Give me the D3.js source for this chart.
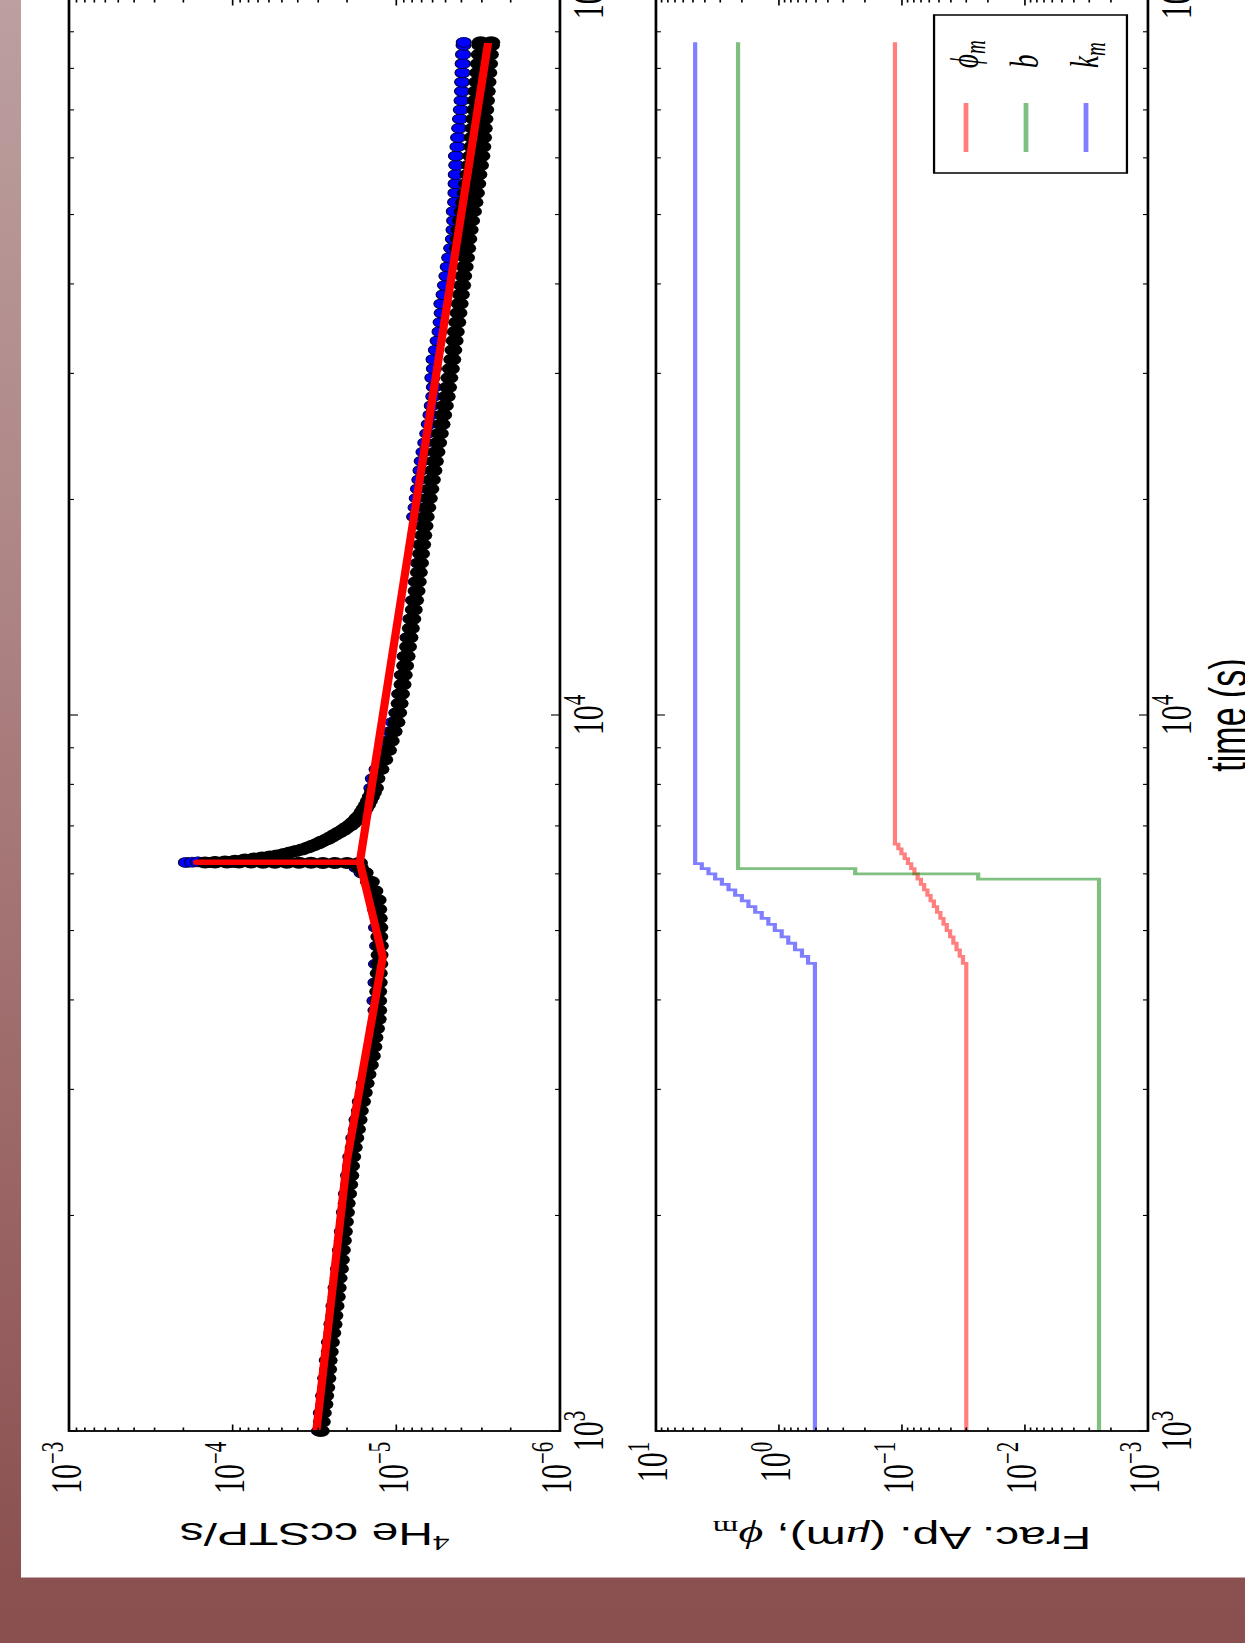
<!DOCTYPE html>
<html><head><meta charset="utf-8">
<script src="https://cdn.jsdelivr.net/npm/d3@7"></script>
<style>html,body{margin:0;padding:0;background:#8a5050;overflow:hidden}</style>
</head><body>
<script>
// ---------------- DATA ----------------
const timeTicks = [1e3, 1e4, 1e5];
const heTicks = [1e-3, 1e-4, 1e-5, 1e-6];
const fracTicks = [1e1, 1e0, 1e-1, 1e-2, 1e-3];

// black measured points [time s, ccSTP/s]
const heBlack = [[1000,2.89e-5],[1030,2.85e-5],[1060,2.81e-5],[1090,2.75e-5],[1120,2.72e-5],[1150,2.68e-5],[1185,2.64e-5],[1220,2.61e-5],[1255,2.59e-5],[1290,2.55e-5],
[1330,2.51e-5],[1370,2.46e-5],[1410,2.42e-5],[1450,2.39e-5],[1495,2.35e-5],[1540,2.31e-5],[1585,2.28e-5],[1635,2.25e-5],[1685,2.21e-5],[1735,2.18e-5],
[1790,2.15e-5],[1845,2.12e-5],[1900,2.09e-5],[1960,2.06e-5],[2020,2.03e-5],[2080,2.01e-5],[2145,1.97e-5],[2210,1.94e-5],[2275,1.91e-5],[2345,1.89e-5],
[2415,1.86e-5],[2490,1.82e-5],[2565,1.78e-5],[2640,1.74e-5],[2720,1.70e-5],[2800,1.67e-5],[2885,1.62e-5],[2970,1.58e-5],[3060,1.54e-5],[3150,1.50e-5],
[3245,1.45e-5],[3340,1.41e-5],[3440,1.38e-5],[3545,1.36e-5],[3650,1.33e-5],[3760,1.30e-5],[3870,1.29e-5],[3990,1.29e-5],[4110,1.29e-5],[4230,1.28e-5],
[4360,1.28e-5],[4490,1.27e-5],[4620,1.265e-5],[4760,1.26e-5],[4900,1.27e-5],[5050,1.27e-5],[5200,1.28e-5],[5355,1.29e-5],[5515,1.30e-5],[5680,1.36e-5],
[5850,1.43e-5],[6020,1.56e-5],[6120,1.67e-5],
[6212,1.69e-5],[6213,2.00e-5],[6214,2.37e-5],[6215,2.81e-5],[6216,3.32e-5],[6217,3.93e-5],[6218,4.66e-5],[6219,5.52e-5],[6220,6.52e-5],[6221,7.73e-5],
[6222,9.16e-5],[6222,1.084e-4],[6223,1.283e-4],[6223,1.476e-4],
[6234,1.283e-4],[6243,1.115e-4],[6260,9.68e-5],[6283,8.42e-5],[6302,7.41e-5],[6324,6.62e-5],[6345,5.92e-5],[6365,5.36e-5],[6396,4.86e-5],[6427,4.47e-5],
[6458,4.10e-5],[6489,3.77e-5],[6532,3.47e-5],[6573,3.23e-5],[6616,3.01e-5],[6658,2.85e-5],[6706,2.65e-5],[6755,2.50e-5],[6804,2.37e-5],[6854,2.24e-5],
[6903,2.12e-5],[6954,2.03e-5],[7010,1.92e-5],[7067,1.84e-5],[7124,1.77e-5],[7182,1.72e-5],[7251,1.647e-5],[7322,1.60e-5],[7404,1.557e-5],[7489,1.51e-5],
[7585,1.47e-5],[7684,1.43e-5],[7795,1.39e-5],[7908,1.35e-5],
[8150,1.322e-5],[8400,1.25e-5],[8660,1.184e-5],[8930,1.124e-5],[9200,1.081e-5],[9480,1.038e-5],[9770,9.98e-6],[10070,9.74e-6],[10380,9.54e-6],[10700,9.36e-6],
[11030,9.16e-6],[11370,9.00e-6],[11720,8.83e-6],[12080,8.65e-6],[12450,8.48e-6],[12830,8.31e-6],[13220,8.15e-6],[13620,7.98e-6],[14030,7.82e-6],[14460,7.68e-6],
[14900,7.52e-6],[15350,7.39e-6],[15820,7.28e-6],[16300,7.16e-6],[16790,7.06e-6],[17300,6.95e-6],[17830,6.84e-6],[18370,6.72e-6],[18920,6.61e-6],[19490,6.47e-6],
[20080,6.33e-6],[20690,6.19e-6],[21310,6.06e-6],[21960,5.93e-6],[22620,5.81e-6],[23300,5.68e-6],[24000,5.55e-6],[24730,5.42e-6],[25480,5.29e-6],[26250,5.17e-6],
[27040,5.05e-6],[27860,4.92e-6],[28700,4.83e-6],[29570,4.74e-6],[30460,4.64e-6],[31380,4.55e-6],[32330,4.48e-6],[33310,4.40e-6],[34310,4.33e-6],[35350,4.24e-6],
[36420,4.17e-6],[37520,4.10e-6],[38650,4.03e-6],[39820,3.96e-6],[41020,3.90e-6],[42260,3.82e-6],[43530,3.75e-6],[44850,3.69e-6],[46200,3.63e-6],[47600,3.56e-6],
[49030,3.49e-6],[50510,3.40e-6],[52030,3.33e-6],[53600,3.26e-6],[55220,3.20e-6],[56880,3.15e-6],[58600,3.08e-6],[60360,3.02e-6],[62180,2.98e-6],[64060,2.95e-6],
[65990,2.92e-6],[67980,2.89e-6],[70030,2.86e-6],[72140,2.83e-6],[74310,2.80e-6],[76550,2.77e-6],[78860,2.74e-6],[81230,2.71e-6],[83680,2.68e-6],[86200,2.64e-6],[87000,2.63e-6]];

// upper scatter of the black points at late times
const heBlackUpper = [[44850,4.20e-6],[46200,4.15e-6],[47600,4.11e-6],[49030,4.03e-6],[50510,3.93e-6],[52030,3.85e-6],[53600,3.76e-6],[55220,3.69e-6],[56880,3.62e-6],[58600,3.55e-6],[60360,3.49e-6],[62180,3.44e-6],
[64060,3.41e-6],[65990,3.37e-6],[67980,3.34e-6],[70030,3.30e-6],[72140,3.27e-6],[74310,3.24e-6],[76550,3.20e-6],[78860,3.16e-6],[81230,3.13e-6],[83680,3.09e-6],[86200,3.06e-6],[87000,3.05e-6]];

// blue measured points
const heBlue = [[1000,2.97e-5],[1060,2.89e-5],[1120,2.80e-5],[1185,2.72e-5],[1255,2.66e-5],[1330,2.58e-5],[1410,2.49e-5],[1495,2.42e-5],[1585,2.35e-5],[1685,2.27e-5],
[1790,2.21e-5],[1900,2.15e-5],[2020,2.09e-5],[2145,2.03e-5],[2275,1.97e-5],[2415,1.91e-5],[2565,1.83e-5],[2720,1.75e-5],[2885,1.67e-5],[3060,1.58e-5],
[3245,1.49e-5],[3440,1.42e-5],[3650,1.36e-5],[3870,1.34e-5],
[3990,1.36e-5],[4230,1.34e-5],[4490,1.33e-5],[4760,1.31e-5],[5050,1.33e-5],[5355,1.35e-5],[5680,1.42e-5],[5850,1.49e-5],[6020,1.63e-5],[6120,1.75e-5],
[6214,2.4e-5],[6217,4.0e-5],[6220,6.5e-5],[6222,1.0e-4],[6223,1.4e-4],[6225,1.93e-4],[6230,1.77e-4],[6236,1.63e-4],
[6283,8.5e-5],[6365,5.4e-5],[6489,3.8e-5],[6658,2.87e-5],[6854,2.26e-5],[7067,1.86e-5],[7322,1.62e-5],[7684,1.45e-5],
[7908,1.42e-5],[8150,1.39e-5],[8400,1.32e-5],[8660,1.25e-5],[8930,1.19e-5],[9200,1.14e-5],[9480,1.09e-5],[9770,1.05e-5],
[10070,1.0e-5],[10700,9.6e-6],[11370,9.25e-6],[12080,8.9e-6],[12830,8.55e-6],[13620,8.2e-6],[14460,7.9e-6],[15350,7.6e-6],[16300,7.37e-6],[17300,7.15e-6],[18370,6.92e-6],
[18920,7.78e-6],[19490,7.62e-6],[20080,7.50e-6],[20690,7.37e-6],[21310,7.23e-6],[21960,7.11e-6],[22620,6.99e-6],[23300,6.82e-6],[24000,6.65e-6],[24730,6.47e-6],
[25480,6.33e-6],[26250,6.18e-6],[27040,6.07e-6],[27860,5.94e-6],[28700,5.89e-6],[29570,6.02e-6],[30460,5.89e-6],[31380,5.92e-6],[32330,5.73e-6],[33310,5.59e-6],
[34310,5.44e-6],[35350,5.36e-6],[36420,5.28e-6],[37520,5.30e-6],[38650,5.14e-6],[39820,5.04e-6],[41020,4.94e-6],[42260,4.85e-6],[43530,4.75e-6],[44850,4.62e-6],
[46200,4.51e-6],[47600,4.47e-6],[49030,4.43e-6],[50510,4.45e-6],[52030,4.37e-6],[53600,4.35e-6],[55220,4.34e-6],[56880,4.33e-6],[58600,4.30e-6],[60360,4.32e-6],
[62180,4.23e-6],[64060,4.19e-6],[65990,4.13e-6],[67980,4.08e-6],[70030,4.03e-6],[72140,3.99e-6],[74310,3.97e-6],[76550,3.96e-6],[78860,3.94e-6],[81230,3.93e-6],
[83680,3.91e-6],[86200,3.88e-6],[87000,3.87e-6]];

// red model fit
const heFit = [[1000,3.08e-5],[2390,2.00e-5],[4590,1.21e-5],[6228,1.67e-5],[6229,1.65e-4],[6230,1.67e-5],[86800,2.75e-6]];

// lower panel: step parameters
const phiSteps = [[1000,0.030],[4500,0.0319],[4600,0.0339],[4700,0.036],[4800,0.0382],[4900,0.0406],[5000,0.0432],[5100,0.0459],[5200,0.0487],[5300,0.0518],
[5400,0.055],[5500,0.0585],[5600,0.0621],[5700,0.066],[5800,0.0701],[5900,0.0745],[6000,0.0792],[6100,0.0841],[6200,0.0894],[6300,0.095],
[6400,0.101],[6500,0.107],[6600,0.114],[87000,0.114]];
const bSteps = [[1000,0.0025],[5900,0.024],[6000,0.24],[6100,2.15],[87000,2.15]];
const kmSteps = [[1000,0.51],[4500,0.58],[4600,0.65],[4700,0.74],[4800,0.84],[4900,0.95],[5000,1.08],[5100,1.22],[5200,1.38],[5300,1.56],
[5400,1.77],[5500,2.0],[5600,2.27],[5700,2.57],[5800,2.91],[5900,3.3],[6000,3.74],[6100,4.24],[6200,4.8],[87000,4.8]];
const legendNames = ['\u03d5', 'b', 'k'];
const legendSubs = ['m', '', 'm'];
const legendColors = ['red', 'green', 'blue'];

// ---------------- DRAWING ----------------
const W = 1245, H = 1643, SX = 1.5;
const svg = d3.select('body').append('svg').attr('width', W).attr('height', H).style('display','block');
const defs = svg.append('defs');
const grad = defs.append('linearGradient').attr('id','bg').attr('x1',0).attr('y1',0).attr('x2',0).attr('y2',1);
[[0,'#bc9f9f'],[0.35,'#ae8585'],[0.75,'#996262'],[0.96,'#8b5151'],[1,'#8a4f4f']].forEach(([o,c]) =>
  grad.append('stop').attr('offset', o).attr('stop-color', c));
svg.append('rect').attr('width', W).attr('height', H).attr('fill', 'url(#bg)');
svg.append('rect').attr('x', 21).attr('y', 0).attr('width', W - 21).attr('height', 1577.5).attr('fill', '#fff');

// figure drawn in its own (rotated, stretched) coordinate frame
const g = svg.append('g').attr('transform', `translate(0,${H}) scale(${SX},1) rotate(-90)`);
const X0 = 212, X1 = 1644;
const x = d3.scaleLog().domain([1e3, 1e5]).range([X0, X1]);
const yTop = d3.scaleLog().domain([1e-3, 1e-6]).range([46, 373.3]);
const yBot = d3.scaleLog().domain([1e1, 1e-3]).range([437.3, 765.3]);

const SERIF = "'Liberation Serif','Times New Roman',serif";
const SANS = "'Liberation Sans',Arial,Helvetica,sans-serif";

function expText(v) {
  const e = Math.round(Math.log10(v));
  return e < 0 ? '\u2212' + (-e) : String(e);
}
function isMajor(v) { const l = Math.log10(v); return Math.abs(l - Math.round(l)) < 1e-6; }

function drawAxes(ys, yTicks) {
  const [ya, yb] = ys.range();
  const ax = g.append('g').attr('stroke', '#000');
  x.ticks().forEach(t => {
    const L = isMajor(t) ? 6 : 3.3, X = x(t);
    ax.append('line').attr('x1', X).attr('x2', X).attr('y1', yb).attr('y2', yb - L).attr('stroke-width', 1.1);
    ax.append('line').attr('x1', X).attr('x2', X).attr('y1', ya).attr('y2', ya + L).attr('stroke-width', 1.1);
  });
  ys.ticks().forEach(v => {
    const L = isMajor(v) ? 6.5 : 3.5, Y = ys(v);
    ax.append('line').attr('x1', X0).attr('x2', X0 + L).attr('y1', Y).attr('y2', Y).attr('stroke-width', 1.1);
    ax.append('line').attr('x1', X1).attr('x2', X1 - L).attr('y1', Y).attr('y2', Y).attr('stroke-width', 1.1);
  });
  ax.append('rect').attr('x', X0).attr('y', ya).attr('width', X1 - X0).attr('height', yb - ya)
    .attr('fill', 'none').attr('stroke-width', 1.8);
  const lab = g.append('g').attr('font-family', SERIF).attr('font-size', 30).attr('fill', '#000');
  timeTicks.forEach(t => {
    const tx = lab.append('text').attr('x', x(t)).attr('y', yb + 28.5).attr('text-anchor', 'middle');
    tx.append('tspan').text('10');
    tx.append('tspan').attr('dy', -12).attr('font-size', 21).text(expText(t));
  });
  yTicks.forEach(v => {
    const tx = lab.append('text').attr('x', X0 - 10.7).attr('y', ys(v) + 7.7).attr('text-anchor', 'end');
    tx.append('tspan').text('10');
    tx.append('tspan').attr('dy', -12).attr('font-size', 21).text(expText(v));
  });
}

// ---- top panel ----
const pts = g.append('g');
pts.selectAll('circle.blue').data(heBlue).join('circle').attr('class','blue')
  .attr('cx', d => x(d[0])).attr('cy', d => yTop(d[1])).attr('r', 5)
  .attr('fill', '#0000ff').attr('stroke', '#000033').attr('stroke-width', 0.8);
pts.selectAll('circle.bu').data(heBlackUpper).join('circle').attr('class','bu')
  .attr('cx', d => x(d[0])).attr('cy', d => yTop(d[1])).attr('r', 6).attr('fill', '#000');
pts.selectAll('circle.bk').data(heBlack).join('circle').attr('class','bk')
  .attr('cx', d => x(d[0])).attr('cy', d => yTop(d[1])).attr('r', 6).attr('fill', '#000');
g.append('path').datum(heFit)
  .attr('d', d3.line().x(d => x(d[0])).y(d => yTop(d[1])))
  .attr('fill', 'none').attr('stroke', '#ff0000').attr('stroke-width', 5.5)
  .attr('stroke-linejoin', 'round');
drawAxes(yTop, heTicks);

// ---- bottom panel ----
const stepLine = d3.line().curve(d3.curveStepAfter).x(d => x(d[0])).y(d => yBot(d[1]));
[[phiSteps,'red'],[bSteps,'green'],[kmSteps,'blue']].forEach(([s,c]) => {
  g.append('path').datum(s).attr('d', stepLine).attr('fill','none')
    .attr('stroke', c).attr('stroke-opacity', 0.5).attr('stroke-width', 2.8);
});
drawAxes(yBot, fracTicks);

// legend
const lg = g.append('g');
lg.append('rect').attr('x', 1470).attr('y', 622.7).attr('width', 158).attr('height', 128.6)
  .attr('fill', '#fff').attr('stroke', '#000').attr('stroke-width', 1.5);
legendNames.forEach((n, i) => {
  const Y = 644 + i * 40;
  lg.append('line').attr('x1', 1491).attr('x2', 1540).attr('y1', Y).attr('y2', Y)
    .attr('stroke', legendColors[i]).attr('stroke-opacity', 0.5).attr('stroke-width', 3.2);
  const t = lg.append('text').attr('x', 1575).attr('y', Y + 8).attr('font-family', SERIF)
    .attr('font-style', 'italic').attr('font-size', 27).attr('fill', '#000');
  t.append('tspan').text(n);
  if (legendSubs[i]) t.append('tspan').attr('font-size', 19).attr('dy', 5).text(legendSubs[i]);
});

// axis labels
const yl1 = g.append('text').attr('transform', 'translate(120,209.7) rotate(-90)')
  .attr('text-anchor', 'middle').attr('font-family', SANS).attr('font-size', 32).attr('fill', '#000');
yl1.append('tspan').attr('font-family', SERIF).attr('font-size', 22).attr('dy', -13).text('4');
yl1.append('tspan').attr('dy', 13).text('He ccSTP/s');

const yl2 = g.append('text').attr('transform', 'translate(116,601.3) rotate(-90)')
  .attr('text-anchor', 'middle').attr('font-family', SANS).attr('font-size', 32).attr('fill', '#000');
yl2.append('tspan').text('Frac. Ap. (');
yl2.append('tspan').attr('font-family', SERIF).attr('font-style', 'italic').text('\u03bc');
yl2.append('tspan').text('m), ');
yl2.append('tspan').attr('font-family', SERIF).attr('font-style', 'italic').text('\u03d5');
yl2.append('tspan').attr('font-family', SERIF).attr('font-size', 22).attr('dy', 6).text('m');

g.append('text').attr('x', (X0 + X1) / 2).attr('y', 831).attr('text-anchor', 'middle')
  .attr('font-family', SANS).attr('font-size', 34).attr('fill', '#000').text('time (s)');
</script>
</body></html>
